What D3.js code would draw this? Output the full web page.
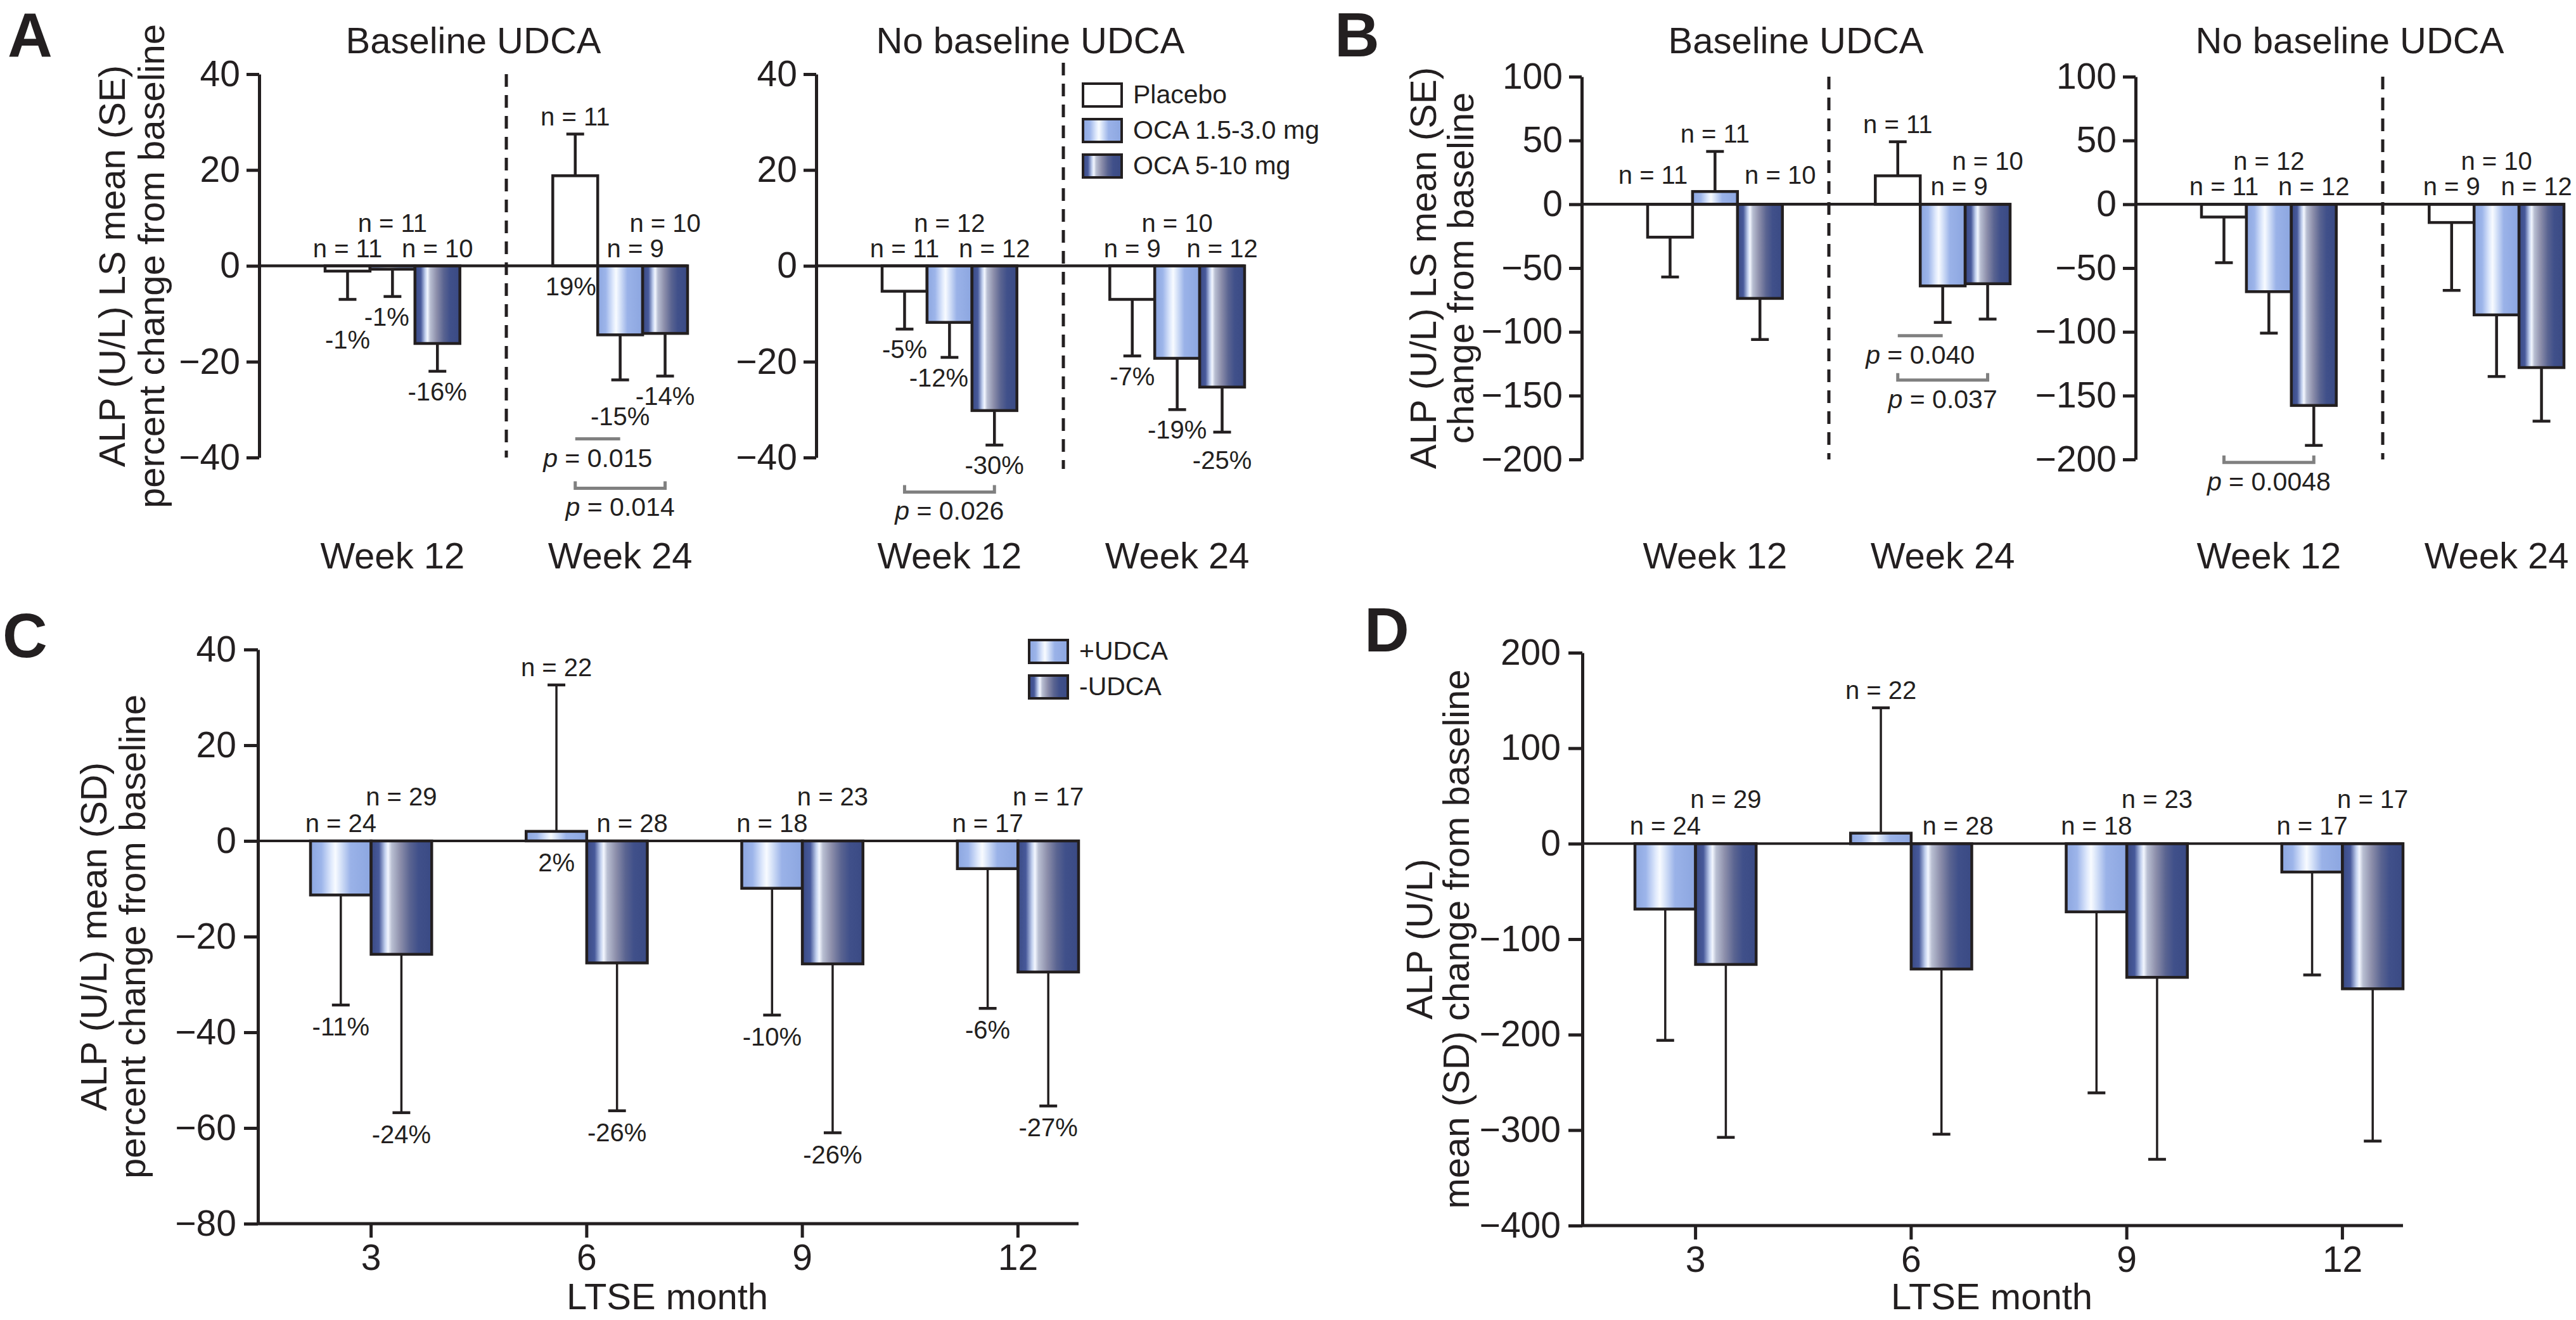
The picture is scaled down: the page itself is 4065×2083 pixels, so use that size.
<!DOCTYPE html>
<html>
<head>
<meta charset="utf-8">
<script src="https://cdn.jsdelivr.net/npm/d3@7"></script>
<style>
  body { margin: 0; background: #fff; }
  text { font-family: "Liberation Sans", Arial, sans-serif; fill: #231f20; }
</style>
</head>
<body>
<div id="fig"></div>
<script>
// ---- data ----
const weeks = ["Week 12", "Week 24"];
const arms = ["Placebo", "OCA 1.5-3.0 mg", "OCA 5-10 mg"];
const months = ["3", "6", "9", "12"];
const udca = ["+UDCA", "-UDCA"];

// A: ALP percent change, LS mean (SE); rows = weeks, cols = arms
const aBaseMean = [[-1.1, -0.7, -16.2], [18.8, -14.4, -14.1]];
const aBaseSE = [[5.9, 5.7, 5.8], [8.7, 9.4, 8.9]];
const aBaseN = [[11, 11, 10], [11, 9, 10]];
const aBasePct = [["-1%", "-1%", "-16%"], ["19%", "-15%", "-14%"]];
const aNoMean = [[-5.3, -11.8, -30.2], [-7.0, -19.3, -25.3]];
const aNoSE = [[7.9, 7.3, 7.2], [11.8, 10.7, 9.4]];
const aNoN = [[11, 12, 12], [9, 10, 12]];
const aNoPct = [["-5%", "-12%", "-30%"], ["-7%", "-19%", "-25%"]];

// B: ALP change (U/L), LS mean (SE)
const bBaseMean = [[-25.8, 10.0, -73.8], [22.3, -64.0, -62.3]];
const bBaseSE = [[31.2, 31.4, 32.2], [26.7, 28.6, 27.7]];
const bBaseN = [[11, 11, 10], [11, 9, 10]];
const bNoMean = [[-10.0, -68.5, -157.7], [-14.3, -86.7, -128.0]];
const bNoSE = [[35.8, 32.5, 31.3], [53.2, 48.3, 42.0]];
const bNoN = [[11, 12, 12], [9, 10, 12]];

// p-values: week index, arm from, arm to
const aBaseP = [{ w: 1, a: 0, b: 1, p: "0.015" }, { w: 1, a: 0, b: 2, p: "0.014" }];
const aNoP = [{ w: 0, a: 0, b: 2, p: "0.026" }];
const bBaseP = [{ w: 1, a: 0, b: 1, p: "0.040" }, { w: 1, a: 0, b: 2, p: "0.037" }];
const bNoP = [{ w: 0, a: 0, b: 2, p: "0.0048" }];

// C: percent change, mean (SD) by LTSE month
const cPlusMean = [-11.3, 2.0, -9.9, -5.8];
const cPlusSD = [23.0, 30.6, 26.5, 29.2];
const cMinusMean = [-23.7, -25.5, -25.7, -27.4];
const cMinusSD = [33.1, 30.9, 35.3, 28.0];
const cPlusPct = ["-11%", "2%", "-10%", "-6%"];
const cMinusPct = ["-24%", "-26%", "-26%", "-27%"];

// D: change (U/L), mean (SD)
const dPlusMean = [-68.5, 11.0, -71.4, -29.7];
const dPlusSD = [137.5, 131.3, 189.6, 107.8];
const dMinusMean = [-126.5, -131.3, -140.0, -152.0];
const dMinusSD = [181.1, 173.0, 190.6, 159.5];

const ltsePlusN = [24, 22, 18, 17];
const ltseMinusN = [29, 28, 23, 17];

// ---- drawing ----
const INK = "#231f20";
const FONT = "'Liberation Sans', Arial, sans-serif";

const svg = d3.select("#fig").append("svg")
  .attr("width", 4065).attr("height", 2083)
  .style("background", "#fff");

const defs = svg.append("defs");
function gradient(id, stops) {
  const g = defs.append("linearGradient").attr("id", id)
    .attr("x1", "0%").attr("x2", "100%").attr("y1", "0%").attr("y2", "0%");
  stops.forEach(([o, c]) => g.append("stop").attr("offset", o).attr("stop-color", c));
}
gradient("gLight", [[0, "#8ca6e0"], [0.18, "#9db5ea"], [0.34, "#dfe9fc"], [0.41, "#f8fbff"], [0.5, "#d6e2f8"], [0.66, "#9ab2e8"], [1, "#8ca6e0"]]);
gradient("gDark", [[0, "#3a4a84"], [0.13, "#47599a"], [0.23, "#c2d0ee"], [0.28, "#f3f7ff"], [0.34, "#b9bfd2"], [0.48, "#8d8fab"], [0.64, "#5a6491"], [0.78, "#40508a"], [1, "#3a4a84"]]);
const armFill = ["#ffffff", "url(#gLight)", "url(#gDark)"];
const udcaFill = ["url(#gLight)", "url(#gDark)"];

function styleAxis(g) {
  g.attr("font-family", FONT).attr("font-size", 57);
  g.selectAll("path, line").attr("stroke", INK).attr("stroke-width", 5);
  g.selectAll("text").attr("fill", INK);
}

function yTitle(lines, x1, x2, cy) {
  [x1, x2].forEach((x, i) => {
    svg.append("text")
      .attr("transform", `translate(${x},${cy}) rotate(-90)`)
      .attr("text-anchor", "middle").attr("font-size", 58)
      .text(lines[i]);
  });
}

function pText(g, x, y, p) {
  const t = g.append("text").attr("x", x).attr("y", y)
    .attr("text-anchor", "middle").attr("font-size", 41);
  t.append("tspan").attr("font-style", "italic").text("p");
  t.append("tspan").text(" = " + p);
}

function legend(x, y, labels, fills) {
  labels.forEach((lab, i) => {
    svg.append("rect").attr("x", x).attr("y", y + i * 56).attr("width", 61).attr("height", 36)
      .attr("fill", fills[i]).attr("stroke", INK).attr("stroke-width", 4);
    svg.append("text").attr("x", x + 79).attr("y", y + i * 56 + 31)
      .attr("font-size", 41).text(lab);
  });
}

// one half of panel A or B
function halfPanel(p) {
  const g = svg.append("g");
  const y = d3.scaleLinear().domain(p.yDomain).range(p.yRange);
  const x = d3.scaleBand().domain(weeks).range([p.axisX + 104, p.axisX + 676]).paddingInner(0.408);
  const xa = d3.scaleBand().domain(d3.range(arms.length)).range([0, x.bandwidth()]);
  const cx = (w, a) => x(weeks[w]) + xa(a) + xa.bandwidth() / 2;

  g.append("g").attr("transform", `translate(${p.axisX},0)`)
    .call(d3.axisLeft(y).tickValues(p.ticks).tickSize(20).tickPadding(10).tickSizeOuter(0))
    .call(styleAxis);

  g.append("text").attr("x", p.axisX + 338).attr("y", 84)
    .attr("text-anchor", "middle").attr("font-size", 58).text(p.title);

  // divider between weeks
  const xd = (x(weeks[0]) + x.bandwidth() + x(weeks[1])) / 2;
  g.append("line").attr("x1", xd).attr("x2", xd)
    .attr("y1", p.yRange[1] - (p.divExt || 0)).attr("y2", p.yRange[0] + (p.divExt || 0))
    .attr("stroke", INK).attr("stroke-width", 5).attr("stroke-dasharray", "20,13");

  weeks.forEach((wk, w) => {
    arms.forEach((arm, a) => {
      const m = p.mean[w][a], se = p.se[w][a];
      const bx = x(wk) + xa(a);
      g.append("rect").attr("x", bx).attr("width", xa.bandwidth())
        .attr("y", y(Math.max(0, m))).attr("height", Math.abs(y(m) - y(0)))
        .attr("fill", armFill[a]).attr("stroke", INK).attr("stroke-width", 4.5);
      const end = m >= 0 ? m + se : m - se;
      const c = cx(w, a);
      g.append("line").attr("x1", c).attr("x2", c).attr("y1", y(m)).attr("y2", y(end))
        .attr("stroke", INK).attr("stroke-width", 4.5);
      g.append("line").attr("x1", c - 14).attr("x2", c + 14).attr("y1", y(end)).attr("y2", y(end))
        .attr("stroke", INK).attr("stroke-width", 4.5);

      const top = m >= 0 ? y(m + se) : y(0);
      g.append("text").attr("x", c + p.nDx[w][a]).attr("y", top - 14 - p.nRow[w][a] * 40)
        .attr("text-anchor", "middle").attr("font-size", 40).text("n = " + p.n[w][a]);

      if (p.pct) {
        const base = m < 0 ? y(end) : y(0);
        g.append("text").attr("x", c + p.pctDx[w][a]).attr("y", base + 46 + p.pctDy[w][a])
          .attr("text-anchor", "middle").attr("font-size", 40).text(p.pct[w][a]);
      }
    });
    g.append("text").attr("x", x(wk) + x.bandwidth() / 2).attr("y", 897)
      .attr("text-anchor", "middle").attr("font-size", 58).text(wk);
  });

  // zero line
  g.append("line").attr("x1", p.axisX).attr("x2", x.range()[1])
    .attr("y1", y(0)).attr("y2", y(0)).attr("stroke", INK).attr("stroke-width", 4.5);

  // significance brackets
  p.pvals.forEach((d, i) => {
    const x1 = cx(d.w, d.a), x2 = cx(d.w, d.b), yy = y(p.pLevel[i]);
    const path = p.pTicks[i]
      ? `M${x1},${yy - 11}V${yy}H${x2}V${yy - 11}`
      : `M${x1},${yy}H${x2}`;
    g.append("path").attr("d", path).attr("fill", "none")
      .attr("stroke", "#808080").attr("stroke-width", 5);
    pText(g, (x1 + x2) / 2, yy + 44, d.p);
  });
}

// panel C or D
function ltsePanel(p) {
  const g = svg.append("g");
  const y = d3.scaleLinear().domain(p.yDomain).range(p.yRange);
  const x = d3.scaleBand().domain(months).range([p.axisX + 83, p.axisX + 1295]).paddingInner(0.438);
  const xs = d3.scaleBand().domain([0, 1]).range([0, x.bandwidth()]);

  g.append("g").attr("transform", `translate(${p.axisX},0)`)
    .call(d3.axisLeft(y).tickValues(p.ticks).tickSize(22).tickPadding(12).tickSizeOuter(0))
    .call(styleAxis);

  const xg = g.append("g").attr("transform", `translate(0,${p.yRange[0]})`)
    .call(d3.axisBottom(x).tickSize(22).tickPadding(11).tickSizeOuter(0))
    .call(styleAxis);
  xg.select(".domain").remove();
  xg.append("line").attr("x1", p.axisX).attr("x2", x.range()[1])
    .attr("stroke", INK).attr("stroke-width", 5);

  g.append("text").attr("x", p.axisX + 646).attr("y", 2066)
    .attr("text-anchor", "middle").attr("font-size", 58).text("LTSE month");

  const series = [[p.plusMean, p.plusSD, p.plusPct], [p.minusMean, p.minusSD, p.minusPct]];
  const ns = [ltsePlusN, ltseMinusN];
  months.forEach((mo, i) => {
    series.forEach(([mean, sd, pct], s) => {
      const m = mean[i], e = sd[i];
      const bx = x(mo) + xs(s);
      const c = bx + xs.bandwidth() / 2;
      g.append("rect").attr("x", bx).attr("width", xs.bandwidth())
        .attr("y", y(Math.max(0, m))).attr("height", Math.abs(y(m) - y(0)))
        .attr("fill", udcaFill[s]).attr("stroke", INK).attr("stroke-width", 4.5);
      const end = m >= 0 ? m + e : m - e;
      g.append("line").attr("x1", c).attr("x2", c).attr("y1", y(m)).attr("y2", y(end))
        .attr("stroke", INK).attr("stroke-width", 3.5);
      g.append("line").attr("x1", c - 14).attr("x2", c + 14).attr("y1", y(end)).attr("y2", y(end))
        .attr("stroke", INK).attr("stroke-width", 4.5);

      const top = m >= 0 ? y(m + e) : y(0);
      g.append("text").attr("x", c + p.nDx[s][i]).attr("y", top - 14 - p.nRow[s][i] * 42)
        .attr("text-anchor", "middle").attr("font-size", 40).text("n = " + ns[s][i]);

      if (pct) {
        const base = m < 0 ? y(end) : y(0);
        g.append("text").attr("x", c).attr("y", base + 48)
          .attr("text-anchor", "middle").attr("font-size", 40).text(pct[i]);
      }
    });
  });

  g.append("line").attr("x1", p.axisX).attr("x2", x.range()[1])
    .attr("y1", y(0)).attr("y2", y(0)).attr("stroke", INK).attr("stroke-width", 4);
}

// ---- panel A ----
halfPanel({
  axisX: 409, yDomain: [-40, 40], yRange: [722, 117], ticks: [-40, -20, 0, 20, 40],
  title: "Baseline UDCA", mean: aBaseMean, se: aBaseSE, n: aBaseN, pct: aBasePct,
  nRow: [[0, 1, 0], [0, 0, 1]], nDx: [[0, 0, 0], [0, 24, 0]],
  pctDy: [[32, 0, 0], [0, 26, 0]], pctDx: [[0, -9, 0], [-7, 0, 0]],
  pvals: aBaseP, pLevel: [-36.1, -46.4], pTicks: [false, true]
});
halfPanel({
  axisX: 1288, yDomain: [-40, 40], yRange: [722, 117], ticks: [-40, -20, 0, 20, 40], divExt: 18,
  title: "No baseline UDCA", mean: aNoMean, se: aNoSE, n: aNoN, pct: aNoPct,
  nRow: [[0, 1, 0], [0, 1, 0]], nDx: [[0, 0, 0], [0, 0, 0]],
  pctDy: [[0, 0, 0], [0, 0, 12]], pctDx: [[0, -17, 0], [0, 0, 0]],
  pvals: aNoP, pLevel: [-47.2], pTicks: [true]
});
legend(1709, 132, arms, armFill);
yTitle(["ALP (U/L) LS mean (SE)", "percent change from baseline"], 197, 259, 420);

// ---- panel B ----
halfPanel({
  axisX: 2496, yDomain: [-200, 100], yRange: [725, 121], ticks: [-200, -150, -100, -50, 0, 50, 100],
  title: "Baseline UDCA", mean: bBaseMean, se: bBaseSE, n: bBaseN, pct: null,
  nRow: [[0.45, 0, 0.45], [0, 0, 1]], nDx: [[-27, 0, 32], [0, 26, 0]],
  pvals: bBaseP, pLevel: [-103, -137.8], pTicks: [false, true]
});
halfPanel({
  axisX: 3370, yDomain: [-200, 100], yRange: [725, 121], ticks: [-200, -150, -100, -50, 0, 50, 100],
  title: "No baseline UDCA", mean: bNoMean, se: bNoSE, n: bNoN, pct: null,
  nRow: [[0, 1, 0], [0, 1, 0]], nDx: [[0, 0, 0], [0, 0, -8]],
  pvals: bNoP, pLevel: [-202.3], pTicks: [true]
});
yTitle(["ALP (U/L) LS mean (SE)", "change from baseline"], 2266, 2325, 423);

// ---- panel C ----
ltsePanel({
  axisX: 407, yDomain: [-80, 40], yRange: [1931, 1025], ticks: [-80, -60, -40, -20, 0, 20, 40],
  plusMean: cPlusMean, plusSD: cPlusSD, plusPct: cPlusPct,
  minusMean: cMinusMean, minusSD: cMinusSD, minusPct: cMinusPct,
  nRow: [[0, 0, 0, 0], [1, 0, 1, 1]], nDx: [[0, 0, 0, 0], [0, 24, 0, 0]]
});
legend(1624, 1010, udca, udcaFill);
yTitle(["ALP (U/L) mean (SD)", "percent change from baseline"], 168, 229, 1478);

// ---- panel D ----
ltsePanel({
  axisX: 2497, yDomain: [-400, 200], yRange: [1934, 1030], ticks: [-400, -300, -200, -100, 0, 100, 200],
  plusMean: dPlusMean, plusSD: dPlusSD, plusPct: null,
  minusMean: dMinusMean, minusSD: dMinusSD, minusPct: null,
  nRow: [[0, 0, 0, 0], [1, 0, 1, 1]], nDx: [[0, 0, 0, 0], [0, 26, 0, 0]]
});
yTitle(["ALP (U/L)", "mean (SD) change from baseline"], 2260, 2318, 1482);

// panel letters
[["A", 12, 89], ["B", 2106, 89], ["C", 4, 1037], ["D", 2153, 1028]].forEach(([t, x, y]) => {
  svg.append("text").attr("x", x).attr("y", y).attr("font-size", 98)
    .attr("font-weight", "bold").text(t);
});
</script>
</body>
</html>
